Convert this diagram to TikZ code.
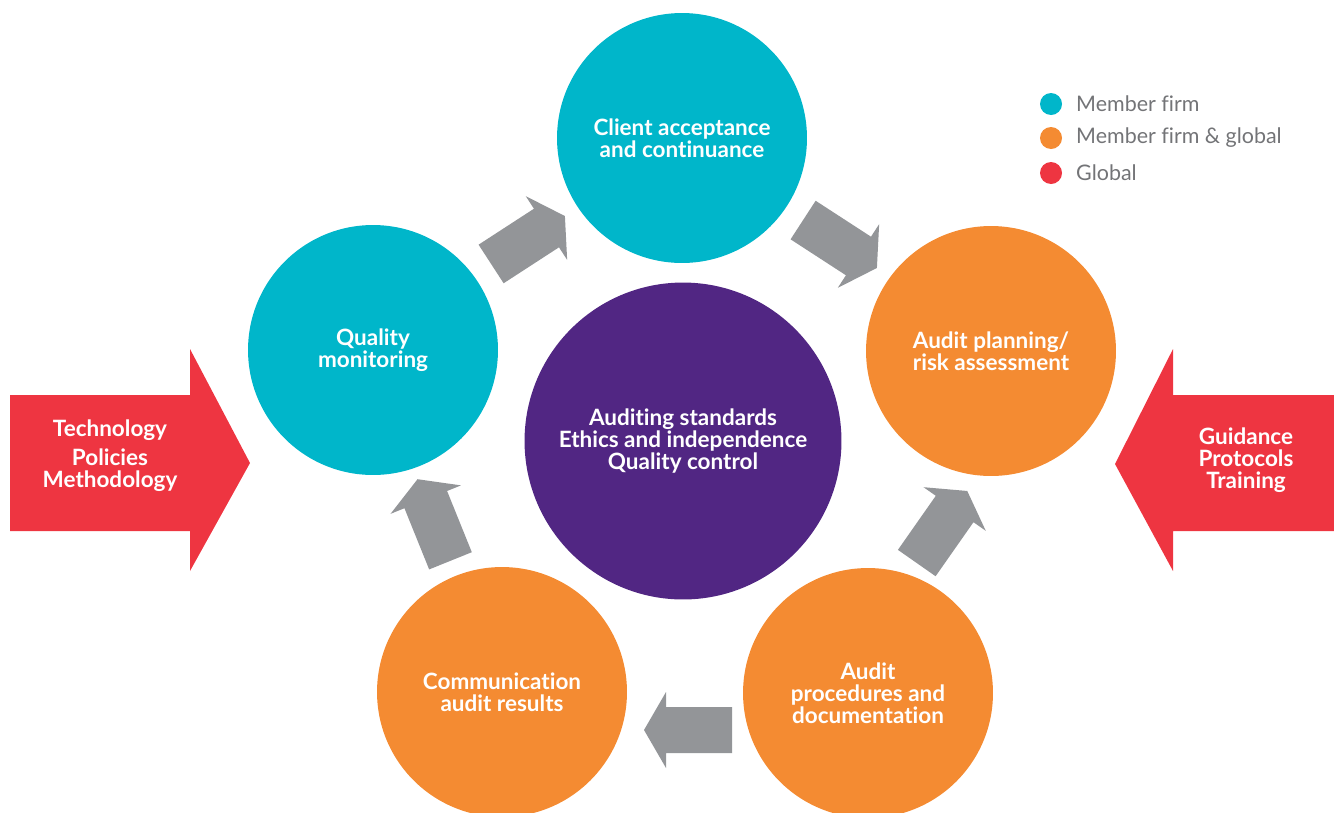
\documentclass[tikz,border=0pt]{standalone}
\usepackage{fontspec}
\setmainfont{Lato}[Ligatures=NoCommon]
\definecolor{memberfirm}{HTML}{00B6CA}
\definecolor{mixed}{HTML}{F48B32}
\definecolor{global}{HTML}{EE3541}
\definecolor{core}{HTML}{512683}
\definecolor{flow}{HTML}{939598}
\definecolor{keygray}{HTML}{737477}
\tikzset{
  stage/.style={circle,minimum size=5cm,inner sep=0pt,align=center,text=white,
    font=\bfseries\fontsize{12.8}{12.6}\selectfont},
  member/.style={stage,fill=memberfirm},
  shared/.style={stage,fill=mixed},
  keydot/.style={circle,minimum size=0.44cm,inner sep=0pt},
  keytext/.style={anchor=west,text=keygray,font=\fontsize{12.2}{13}\selectfont},
  pillar/.style={align=center,text=white,font=\bfseries\fontsize{12.8}{12.6}\selectfont},
}
% grey block arrow: centre x, centre y, direction
\newcommand\grayarrow[3]{%
  \fill[flow,shift={(#1,#2)},rotate=#3]
    (-44,-23) -- (22,-23) -- (22,-38) -- (44,0) -- (22,38) -- (22,23) -- (-44,23) -- cycle;}

\begin{document}
\begin{tikzpicture}[x=0.02cm,y=-0.02cm]
  \useasboundingbox (0,0) rectangle (1334,812);

  % red side arrows
  \fill[global] (10,395) -- (190,395) -- (190,349) -- (250,463) -- (190,571)
    -- (190,531) -- (10,531) -- cycle;
  \fill[global] (1334,395) -- (1173,395) -- (1173,349) -- (1115,464) -- (1173,571)
    -- (1173,531) -- (1334,531) -- cycle;
  \node[pillar] (tools) at (110,456) {Technology\\[0.14cm]Policies\\Methodology};
  \node[pillar] (support) at (1246,460) {Guidance\\Protocols\\Training};

  % the cycle
  \node[stage,fill=core,minimum size=6.34cm] (core) at (683,441)
    {Auditing standards\\Ethics and independence\\Quality control};
  \node[member] (accept) at (682,138) {Client acceptance\\and continuance};
  \node[shared] (plan) at (991,351) {Audit planning/\\risk assessment};
  \node[shared] (proc) at (868,693) {Audit\\procedures and\\documentation};
  \node[shared] (comm) at (502,692) {Communication\\audit results};
  \node[member] (monitor) at (373,350) {Quality\\monitoring};

  \grayarrow{528}{240}{33}
  \grayarrow{840}{244}{-33}
  \grayarrow{942}{527}{55}
  \grayarrow{688}{730}{180}
  \grayarrow{434}{520}{112}

  % legend
  \node[keydot,fill=memberfirm] (k1) at (1051,104) {};
  \node[keydot,fill=mixed] (k2) at (1051,138) {};
  \node[keydot,fill=global] (k3) at (1051,173) {};
  \node[keytext] (t1) at (1070,104) {Member firm};
  \node[keytext] (t2) at (1070,138) {Member firm \& global};
  \node[keytext] (t3) at (1070,173) {Global};
\end{tikzpicture}
\end{document}
